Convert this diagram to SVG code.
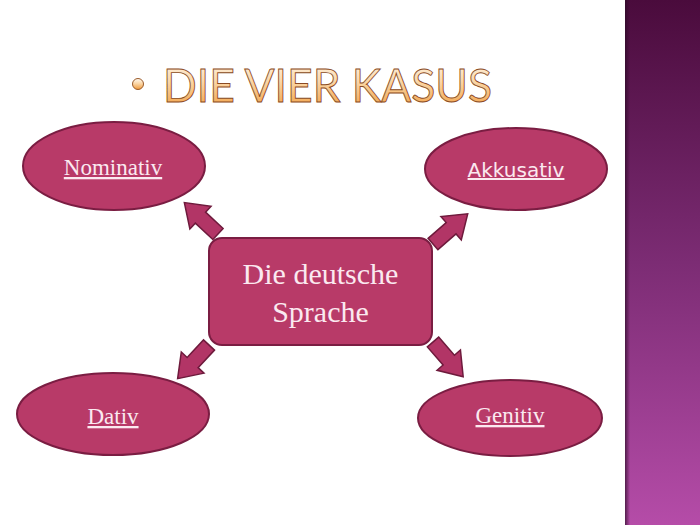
<svg xmlns="http://www.w3.org/2000/svg" width="700" height="525" viewBox="0 0 700 525">
<style>
.node{fill:#b83a68;stroke:#7a1d42;stroke-width:2}
.lbl{fill:#fbe9f0;font-family:"Liberation Serif","Times New Roman",serif;font-size:23px;text-anchor:middle;text-decoration:underline}
.lbls{fill:#fbe9f0;font-family:"DejaVu Sans",Verdana,sans-serif;font-size:20px;text-anchor:middle;text-decoration:underline}
.ctr{fill:#fbe9f0;font-family:"Liberation Serif","Times New Roman",serif;font-size:30px;text-anchor:middle}
.arr{fill:#b23566;stroke:#6e1a3c;stroke-width:1.5;stroke-linejoin:miter}
</style>
<defs>
<linearGradient id="strip" x1="0" y1="0" x2="0" y2="1">
<stop offset="0" stop-color="#4a0b3c"/>
<stop offset="0.5" stop-color="#7c2c74"/>
<stop offset="1" stop-color="#b54ca8"/>
</linearGradient>
<linearGradient id="shade" x1="0" y1="0" x2="1" y2="0">
<stop offset="0" stop-color="#2a0a25" stop-opacity="0.7"/>
<stop offset="1" stop-color="#2a0a25" stop-opacity="0"/>
</linearGradient>
<linearGradient id="title" x1="0" y1="0" x2="0" y2="1">
<stop offset="0" stop-color="#fffaf2"/>
<stop offset="0.45" stop-color="#fbd7a8"/>
<stop offset="1" stop-color="#f09a3a"/>
</linearGradient>
<path id="arrow" d="M0,-7.5 L24,-7.5 L24,-15.5 L46,0 L24,15.5 L24,7.5 L0,7.5 Z"/>
</defs>
<rect width="700" height="525" fill="#ffffff"/>
<rect x="625" y="0" width="75" height="525" fill="url(#strip)"/>
<rect x="625" y="0" width="5" height="525" fill="url(#shade)"/>
<g id="title-text">
<circle cx="138" cy="84" r="5.5" fill="url(#title)" stroke="#9a5a2a" stroke-width="1"/>
<text x="163" y="102" font-family="Lato,'Open Sans',sans-serif" font-size="47" textLength="329" lengthAdjust="spacingAndGlyphs" fill="url(#title)" stroke="#8a4a22" stroke-width="0.9">DIE VIER KASUS</text>
</g>
<g id="connectors">
<use href="#arrow" class="arr" transform="translate(218,234) rotate(-137)"/>
<use href="#arrow" class="arr" transform="translate(433,244) rotate(-41)"/>
<use href="#arrow" class="arr" transform="translate(209,345) rotate(133)"/>
<use href="#arrow" class="arr" transform="translate(433,342) rotate(49)"/>
</g>
<g id="center">
<rect x="209" y="238" width="223" height="107" rx="13" class="node"/>
<text x="320.5" y="284" class="ctr">Die deutsche</text>
<text x="320.5" y="322" class="ctr">Sprache</text>
</g>
<g id="nominativ">
<ellipse cx="114" cy="166" rx="91" ry="44" class="node"/>
<text x="113" y="175" class="lbl">Nominativ</text>
</g>
<g id="akkusativ">
<ellipse cx="516" cy="169" rx="91" ry="41" class="node"/>
<text x="516" y="177" class="lbls">Akkusativ</text>
</g>
<g id="dativ">
<ellipse cx="113" cy="414" rx="96" ry="41" class="node"/>
<text x="113" y="424" class="lbl">Dativ</text>
</g>
<g id="genitiv">
<ellipse cx="510" cy="418" rx="92" ry="38" class="node"/>
<text x="510" y="423" class="lbl">Genitiv</text>
</g>
</svg>
